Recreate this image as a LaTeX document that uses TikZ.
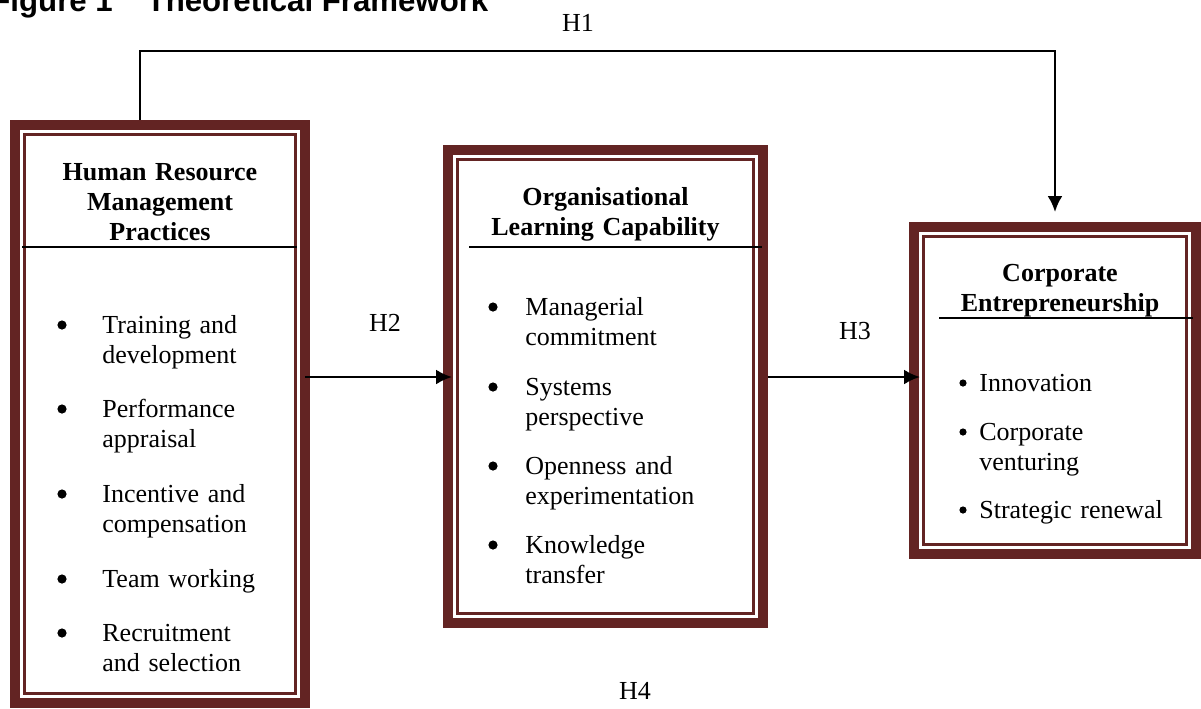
\documentclass[tikz,border=0pt]{standalone}
\usepackage{fontspec}
\setmainfont{Liberation Serif}
\newfontfamily\titlefont{Liberation Sans}
\usetikzlibrary{arrows.meta,positioning}

\definecolor{framered}{RGB}{99,36,35}

\tikzset{
  frame/.style={draw=framered, line width=5pt, inner sep=0pt},
  inner frame/.style={draw=framered, line width=1.5pt},
  head/.style={font=\bfseries\fontsize{13}{15}\selectfont, align=center, anchor=base, inner sep=0pt},
  item/.style={font=\fontsize{13}{15}\selectfont, align=left, anchor=base west, inner sep=0pt},
  dot/.style={circle, fill, inner sep=0pt, minimum size=4.6pt},
  hyp/.style={font=\fontsize{13}{15}\selectfont, anchor=base, inner sep=0pt},
  rule/.style={line width=1pt},
  link/.style={line width=1.2pt}
}

\begin{document}
\begin{tikzpicture}[x=0.5pt, y=0.5pt, >={Latex[length=8pt,width=7.5pt]}]

    \useasboundingbox (0,0) rectangle (1201,-708);

    % Title (runs off the top of the page)
    \node[font=\titlefont\bfseries\fontsize{15.6}{18}\selectfont, anchor=base west, inner sep=0pt]
        (fig) at (-9,-11) {Figure 1\hspace{17pt}Theoretical Framework};

    % The three boxes
    \node[frame, minimum width=145pt, minimum height=289pt] (hrm) at (160,-414) {};
    \node[frame, minimum width=157.5pt, minimum height=236.5pt] (olc) at (605.5,-386.5) {};
    \node[frame, minimum width=141pt, minimum height=163.5pt] (ce) at (1055,-390.5) {};

    % thin line inside each thick border
    \foreach \b in {hrm,olc,ce}
        \draw[inner frame] ([shift={(7.25pt,-7.25pt)}]\b.north west) rectangle ([shift={(-7.25pt,7.25pt)}]\b.south east);

    % Box headings
    \node[head, text width=130pt] (hrmhead) at ([yshift=-30pt]hrm.north) {Human Resource\\Management\\Practices};
    \node[head, text width=140pt] (olchead) at ([yshift=-30pt]olc.north) {Organisational\\Learning Capability};
    \node[head, text width=130pt] (cehead) at ([xshift=2.5pt,yshift=-29.5pt]ce.north) {Corporate\\Entrepreneurship};

    % Rules under the headings
    \draw[rule] (22,-247) -- (297,-247);
    \draw[rule] (469,-247) -- (762,-247);
    \draw[rule] (939,-318) -- (1193,-318);

    % Practices
    \foreach \y/\txt [count=\i] in {333/{Training and\\development}, 417/{Performance\\appraisal},
            502/{Incentive and\\compensation}, 587/{Team working}, 641/{Recruitment\\and selection}} {
        \node[dot] (hrmdot\i) at (62,-\y+8) {};
        \node[item, text width=90pt] (hrmitem\i) at (102,-\y) {\txt};
    }

    % Learning capability
    \foreach \y/\txt [count=\i] in {315/{Managerial\\commitment}, 395/{Systems\\perspective},
            474/{Openness and\\experimentation}, 553/{Knowledge\\transfer}} {
        \node[dot] (olcdot\i) at (493,-\y+8) {};
        \node[item, text width=100pt] (olcitem\i) at (525,-\y) {\txt};
    }

    % Entrepreneurship
    \foreach \y/\txt [count=\i] in {391/{Innovation}, 440/{Corporate\\venturing}, 518/{Strategic renewal}} {
        \node[dot, minimum size=3.6pt] (cedot\i) at (963,-\y+8) {};
        \node[item, text width=100pt] (ceitem\i) at (979,-\y) {\txt};
    }

    % Hypotheses
    \coordinate (flow) at (0,-377);
    \draw[link,->] ([xshift=-10pt]hrm.north) -- ++(0,34.5pt) -| ([yshift=5pt]ce.north);
    \draw[link,->,shorten <=-2.5pt,shorten >=-4.5pt] (hrm.east |- flow) -- (olc.west |- flow);
    \draw[link,->,shorten >=-5.5pt] (olc.east |- flow) -- (ce.west |- flow);

    \node[hyp] (h1) at (578,-31) {H1};
    \node[hyp] (h2) at (385,-331) {H2};
    \node[hyp] (h3) at (855,-339) {H3};
    \node[hyp] (h4) at (635,-699) {H4};

\end{tikzpicture}
\end{document}
